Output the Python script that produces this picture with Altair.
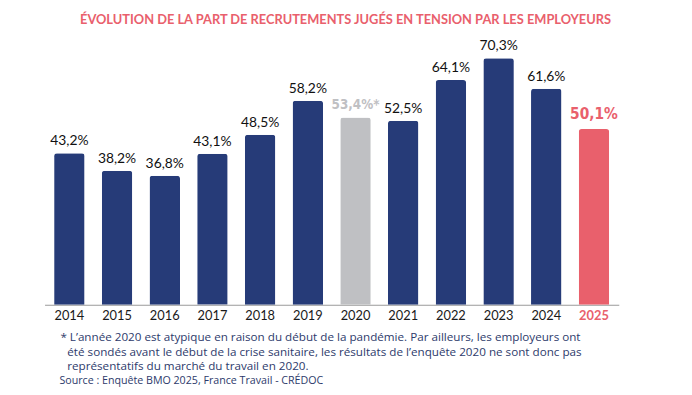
import altair as alt
import pandas as pd

years = ["2014", "2015", "2016", "2017", "2018", "2019", "2020", "2021", "2022", "2023", "2024", "2025"]
values = [43.2, 38.2, 36.8, 43.1, 48.5, 58.2, 53.4, 52.5, 64.1, 70.3, 61.6, 50.1]
labels = ["43,2%", "38,2%", "36,8%", "43,1%", "48,5%", "58,2%", "53,4%*", "52,5%", "64,1%", "70,3%", "61,6%", "50,1%"]
groups = ["normal"] * 6 + ["atypique"] + ["normal"] * 4 + ["actuel"]

title = "ÉVOLUTION DE LA PART DE RECRUTEMENTS JUGÉS EN TENSION PAR LES EMPLOYEURS"
footnote_lines = [
    "* L’année 2020 est atypique en raison du début de la pandémie. Par ailleurs, les employeurs ont",
    "été sondés avant le début de la crise sanitaire, les résultats de l’enquête 2020 ne sont donc pas",
    "représentatifs du marché du travail en 2020.",
]
source = "Source : Enquête BMO 2025, France Travail - CRÉDOC"

NAVY = "#263b78"
GRAY = "#bfc0c3"
RED = "#e9606c"
NOTE = "#2d3a6b"
COND = "'Liberation Sans Narrow', 'DejaVu Sans Condensed', 'Roboto', sans-serif"

df = pd.DataFrame({"annee": years, "valeur": values, "label": labels, "groupe": groups})

x = alt.X("annee:N", sort=years, title=None,
          scale=alt.Scale(paddingInner=0.36, paddingOuter=0.2),
          axis=alt.Axis(labelAngle=0, ticks=False, domainColor="#9a9a9a", domainWidth=1.2,
                        labelFont="Lato", labelFontSize=13, labelPadding=5,
                        labelColor=alt.condition("datum.value == '2025'", alt.value(RED), alt.value("#1a1a1a")),
                        labelFontWeight=alt.condition("datum.value == '2025'", alt.value("bold"), alt.value("normal"))))
y = alt.Y("valeur:Q", scale=alt.Scale(domain=[0, 75], nice=False), axis=None)
color = alt.Color("groupe:N", scale=alt.Scale(domain=["normal", "atypique", "actuel"], range=[NAVY, GRAY, RED]), legend=None)

base = alt.Chart(df).encode(x=x, y=y)

bars = base.mark_bar(cornerRadiusTopLeft=3, cornerRadiusTopRight=3).encode(color=color)

txt_normal = base.transform_filter("datum.groupe == 'normal'").mark_text(
    baseline="bottom", dy=-5, font="Lato", fontSize=14, color="#111111").encode(text="label:N")
txt_atyp = base.transform_filter("datum.groupe == 'atypique'").mark_text(
    baseline="bottom", dy=-6, font=COND, fontSize=13.5, fontWeight="bold", color=GRAY).encode(text="label:N")
txt_actuel = base.transform_filter("datum.groupe == 'actuel'").mark_text(
    baseline="bottom", dy=-7, font=COND, fontSize=15.5, fontWeight="bold", color=RED).encode(text="label:N")

notes_df = pd.DataFrame({"t": footnote_lines, "i": [0, 1, 2]})
NOTE_FONT = "Open Sans"
NOTE_SIZE = 11.8


def note_line(i, xpos, ypos):
    return alt.Chart(notes_df).transform_filter(f"datum.i == {i}").mark_text(
        align="left", baseline="middle", font=NOTE_FONT, fontSize=NOTE_SIZE, color=NOTE).encode(
        x=alt.value(xpos), y=alt.value(ypos), text="t:N")


notes1 = note_line(0, 16, 299)
notes2 = note_line(1, 23, 313.5)
notes3 = note_line(2, 23, 328)

src_df = pd.DataFrame({"t": [source]})
src = alt.Chart(src_df).mark_text(align="left", baseline="middle", font=NOTE_FONT, fontSize=10.8, color=NOTE).encode(
    x=alt.value(15), y=alt.value(343.5), text="t:N")

chart = alt.layer(bars, txt_normal, txt_atyp, txt_actuel, notes1, notes2, notes3, src).properties(
    width=581, height=266,
    title=alt.TitleParams(title, anchor="middle", dx=14, offset=13, font="Lato", fontSize=13,
                          fontWeight="bold", color=RED),
    autosize=alt.AutoSizeParams(type="none"),
    padding={"left": 37, "top": 32, "right": 66, "bottom": 81},
).configure(background="white").configure_view(stroke=None)

chart.save("out.html", embed_options={"renderer": "svg", "actions": False})
